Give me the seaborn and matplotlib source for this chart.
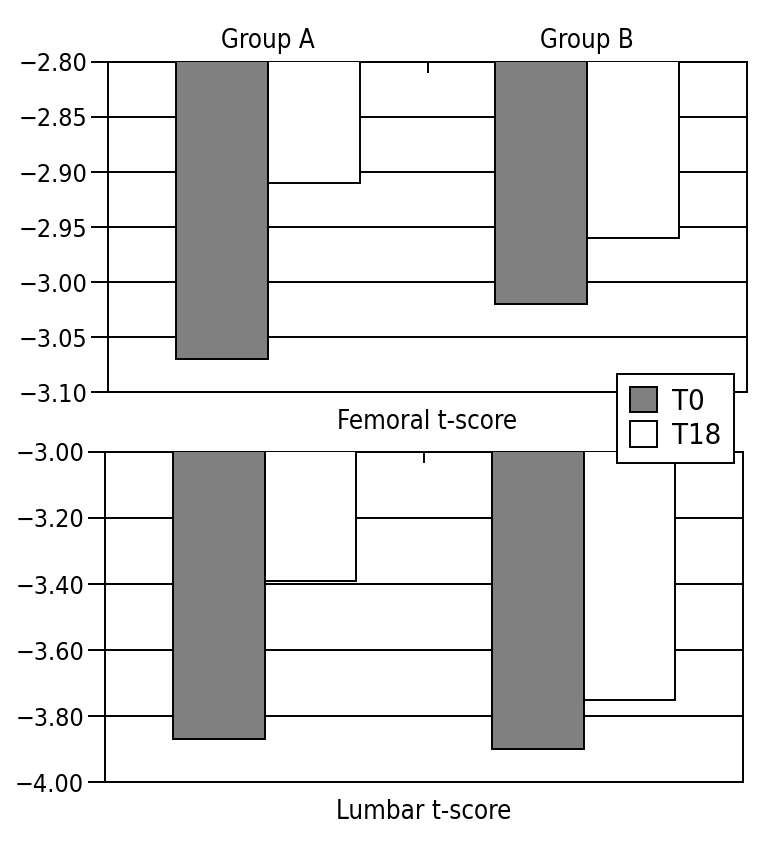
import seaborn as sns
import matplotlib.pyplot as plt
import pandas as pd
from matplotlib.patches import Patch

groups = ["Group A", "Group B"]
times = ["T0", "T18"]
femoral_t0 = [-3.07, -3.02]
femoral_t18 = [-2.91, -2.96]
lumbar_t0 = [-3.87, -3.90]
lumbar_t18 = [-3.39, -3.75]
femoral_ticks = [-2.80, -2.85, -2.90, -2.95, -3.00, -3.05, -3.10]
lumbar_ticks = [-3.00, -3.20, -3.40, -3.60, -3.80, -4.00]

sns.set_style("white")
plt.rcParams['font.family'] = ['DejaVu Sans']
plt.rcParams['font.stretch'] = 'condensed'
plt.rcParams['text.color'] = 'black'
plt.rcParams['xtick.color'] = 'black'
plt.rcParams['ytick.color'] = 'black'
plt.rcParams['axes.labelcolor'] = 'black'
plt.rcParams['axes.unicode_minus'] = True

palette = {"T0": "#808080", "T18": "#ffffff"}
FS = 18
LW = 1.4


def make_df(t0, t18):
    return pd.DataFrame({
        "group": groups * 2,
        "time": ["T0"] * 2 + ["T18"] * 2,
        "value": t0 + t18,
    })


fig = plt.figure(figsize=(7.71, 8.48), dpi=100)
ax1 = fig.add_axes([0.1401, 0.5377, 0.8288, 0.3892])
ax2 = fig.add_axes([0.1362, 0.0778, 0.8275, 0.3892])

panels = [
    (ax1, make_df(femoral_t0, femoral_t18), femoral_ticks, "Femoral t-score"),
    (ax2, make_df(lumbar_t0, lumbar_t18), lumbar_ticks, "Lumbar t-score"),
]

for ax, df, ticks, label in panels:
    sns.barplot(data=df, x="group", y="value", hue="time", order=groups,
                hue_order=times, palette=palette, width=0.576,
                edgecolor="black", linewidth=LW, saturation=1,
                legend=False, ax=ax, zorder=3)
    ax.set_ylim(min(ticks), max(ticks))
    ax.set_xlim(-0.5, 1.5)
    ax.set_yticks(ticks)
    ax.set_yticklabels([f"{t:.2f}".replace("-", "\u2212") for t in ticks])
    ax.yaxis.grid(True, color="black", linewidth=LW, zorder=0)
    ax.set_axisbelow(True)
    for s in ax.spines.values():
        s.set_visible(True)
        s.set_color("black")
        s.set_linewidth(LW)
    ax.tick_params(axis="y", direction="out", length=12, width=LW,
                   labelsize=FS, left=True, pad=3)
    ax.set_ylabel("")
    ax.set_xlabel(label, fontsize=FS + 0.5, labelpad=12)
    ax.xaxis.tick_top()
    ax.xaxis.set_label_position("bottom")
    ax.set_xticks([0.5], minor=True)
    ax.tick_params(axis="x", which="minor", direction="in", top=True,
                   bottom=False, length=8, width=LW)
    ax.tick_params(axis="x", which="major", length=0, labelsize=FS + 0.5, pad=6)

ax2.tick_params(axis="x", which="major", labeltop=False)

handles = [Patch(facecolor=palette[t], edgecolor="black", linewidth=LW, label=t)
           for t in times]
leg = fig.legend(handles=handles, loc="center", bbox_to_anchor=(0.8761, 0.5065),
                 fontsize=21, frameon=True, fancybox=False, edgecolor="black",
                 framealpha=1, handlelength=0.95, handleheight=0.95,
                 borderpad=0.45, handletextpad=0.5, labelspacing=0.2,
                 borderaxespad=0)
leg.get_frame().set_linewidth(LW)
leg.set_zorder(10)

fig.savefig("out.png", dpi=100)
